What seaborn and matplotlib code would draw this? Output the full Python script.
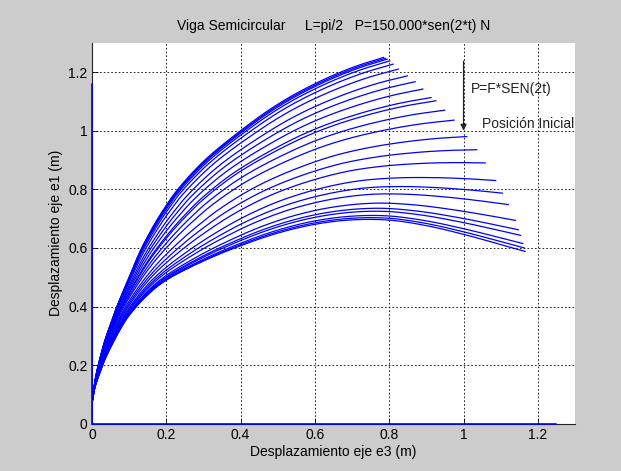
import numpy as np
import pandas as pd
import matplotlib
matplotlib.use("Agg")
import matplotlib.pyplot as plt
import seaborn as sns

# ---- data ----
# upper envelope beam shape (e3, e1)
top_x = [0.000, 0.008, 0.017, 0.035, 0.050, 0.067, 0.100, 0.130, 0.170, 0.200, 0.228,
         0.300, 0.400, 0.500, 0.600, 0.700, 0.785]
top_y = [0.070, 0.145, 0.200, 0.285, 0.340, 0.400, 0.500, 0.590, 0.685, 0.745, 0.795,
         0.895, 1.000, 1.090, 1.160, 1.215, 1.250]
# lower envelope beam shape (e3, e1)
bot_x = [0.000, 0.008, 0.020, 0.035, 0.050, 0.075, 0.100, 0.150, 0.200, 0.300, 0.400,
         0.500, 0.600, 0.700, 0.800, 0.900, 1.000, 1.100, 1.166]
bot_y = [0.070, 0.125, 0.170, 0.220, 0.260, 0.320, 0.370, 0.440, 0.490, 0.555, 0.607,
         0.650, 0.680, 0.695, 0.694, 0.675, 0.645, 0.610, 0.586]
# free-end (tip) positions of each drawn beam shape
tip_x = [0.785, 0.790, 0.795, 0.802, 0.811, 0.825, 0.849, 0.870, 0.891, 0.913, 0.926,
         0.950, 0.975, 1.009, 1.036, 1.059, 1.087, 1.105, 1.121, 1.140, 1.148, 1.154,
         1.160, 1.164, 1.166]
tip_y = [1.250, 1.247, 1.244, 1.238, 1.227, 1.210, 1.187, 1.167, 1.142, 1.113, 1.102,
         1.070, 1.036, 0.980, 0.935, 0.890, 0.830, 0.787, 0.748, 0.694, 0.662, 0.643,
         0.615, 0.600, 0.588]
# blue lines lying on the axes
vline_y = [0.0, 1.16]
hline_x = [0.0, 1.25]

xticks = [0, 0.2, 0.4, 0.6, 0.8, 1.0, 1.2]
yticks = [0, 0.2, 0.4, 0.6, 0.8, 1.0, 1.2]
xtick_labels = ["0", "0.2", "0.4", "0.6", "0.8", "1", "1.2"]
ytick_labels = ["0", "0.2", "0.4", "0.6", "0.8", "1", "1.2"]

title = "Viga Semicircular     L=pi/2   P=150.000*sen(2*t) N"
xlabel = "Desplazamiento eje e3 (m)"
ylabel = "Desplazamiento eje e1 (m)"
load_label = "P=F*SEN(2t)"
init_label = "Posición Inicial"


def smooth_path(xs, ys, n=30):
    """Centripetal Catmull-Rom path through the read points."""
    P = np.column_stack([xs, ys]).astype(float)
    P = np.vstack([2 * P[0] - P[1], P, 2 * P[-1] - P[-2]])
    out = []
    for i in range(1, len(P) - 2):
        p0, p1, p2, p3 = P[i - 1], P[i], P[i + 1], P[i + 2]
        t0 = 0.0
        t1 = t0 + np.linalg.norm(p1 - p0) ** 0.5
        t2 = t1 + np.linalg.norm(p2 - p1) ** 0.5
        t3 = t2 + np.linalg.norm(p3 - p2) ** 0.5
        t = np.linspace(t1, t2, n, endpoint=False)[:, None]
        a1 = (t1 - t) / (t1 - t0) * p0 + (t - t0) / (t1 - t0) * p1
        a2 = (t2 - t) / (t2 - t1) * p1 + (t - t1) / (t2 - t1) * p2
        a3 = (t3 - t) / (t3 - t2) * p2 + (t - t2) / (t3 - t2) * p3
        b1 = (t2 - t) / (t2 - t0) * a1 + (t - t0) / (t2 - t0) * a2
        b2 = (t3 - t) / (t3 - t1) * a2 + (t - t1) / (t3 - t1) * a3
        c = (t2 - t) / (t2 - t1) * b1 + (t - t1) / (t2 - t1) * b2
        out.append(c)
    out.append(P[-2][None, :])
    out = np.vstack(out)
    return out[:, 0], out[:, 1]


def resample(xs, ys, s):
    xs, ys = smooth_path(xs, ys)
    d = np.r_[0, np.cumsum(np.hypot(np.diff(xs), np.diff(ys)))]
    d /= d[-1]
    return np.interp(s, d, xs), np.interp(s, d, ys)


s = np.linspace(0, 1, 400)
tx, ty = resample(top_x, top_y, s)
bx, by = resample(bot_x, bot_y, s)

rows = []
for k, (ex, ey) in enumerate(zip(tip_x, tip_y)):
    w = (ey - by[-1]) / (ty[-1] - by[-1])
    cx = (1 - w) * bx + w * tx
    cy = (1 - w) * by + w * ty
    cx = cx + (ex - cx[-1]) * s ** 2
    cy = cy + (ey - cy[-1]) * s ** 2
    rows.append(pd.DataFrame({"x": cx, "y": cy, "curve": k}))
df = pd.concat(rows, ignore_index=True)

# ---- figure ----
sns.set_theme(style="white")
plt.rcParams["font.family"] = ["Liberation Sans", "DejaVu Sans"]

fig = plt.figure(figsize=(6.21, 4.71), dpi=100, facecolor="#cccccc")
ax = fig.add_axes([0.148, 0.0998, 0.778, 0.8096])
ax.set_facecolor("white")

sns.lineplot(data=df, x="x", y="y", units="curve", estimator=None, sort=False,
             color="#0000ff", linewidth=0.9, ax=ax, legend=False)

ax.plot([0, 0], vline_y, color="#0000ff", lw=1.2, clip_on=False, zorder=5)
ax.plot(hline_x, [0, 0], color="#0000ff", lw=1.2, clip_on=False, zorder=5)

ax.set_xlim(0, 1.3)
ax.set_ylim(0, 1.3)
ax.set_xticks(xticks)
ax.set_xticklabels(xtick_labels)
ax.set_yticks(yticks)
ax.set_yticklabels(ytick_labels)
ax.tick_params(direction="in", length=4, width=0.6, colors="black",
               labelsize=10, pad=3, bottom=True, left=True)
ax.grid(True, color="black", linestyle=(0, (2, 2.5)), linewidth=0.6)
ax.set_axisbelow(True)
for side in ["top", "right"]:
    ax.spines[side].set_visible(False)
for side in ["left", "bottom"]:
    ax.spines[side].set_color("#222222")
    ax.spines[side].set_linewidth(0.8)

ax.set_xlabel(xlabel, fontsize=10, color="black", labelpad=2)
ax.set_ylabel(ylabel, fontsize=10, color="black", labelpad=4)
ax.set_title(title, fontsize=10, color="black", pad=9)

ax.annotate("", xy=(1.0, 1.0), xytext=(1.0, 1.237),
            arrowprops=dict(arrowstyle="-|>", color="#222222", lw=0.9,
                            mutation_scale=9, shrinkA=0, shrinkB=0))
ax.text(1.02, 1.142, load_label, fontsize=10, va="center", ha="left", color="#222222")
ax.text(1.05, 1.023, init_label, fontsize=10, va="center", ha="left", color="#222222")

fig.savefig("out.png", dpi=100, facecolor=fig.get_facecolor())
